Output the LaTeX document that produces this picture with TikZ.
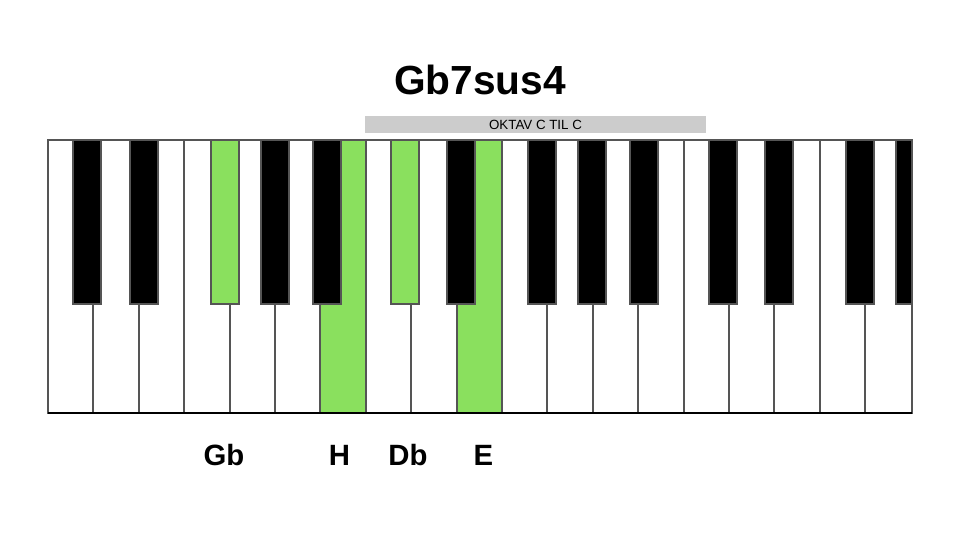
\documentclass[tikz,border=0pt]{standalone}
\usepackage{fontspec}
\setmainfont{Liberation Sans}
\definecolor{keygreen}{RGB}{138,224,94}
\definecolor{keyline}{RGB}{85,85,85}
\definecolor{barfill}{RGB}{204,204,204}
\begin{document}
\begin{tikzpicture}[x=0.75pt,y=-0.75pt,
  whitekey/.style={draw=keyline,line width=1.5pt,fill=white},
  greenwhite/.style={whitekey,fill=keygreen},
  blackkey/.style={draw=keyline,line width=1.5pt,fill=black},
  greenblack/.style={blackkey,fill=keygreen},
  notelabel/.style={anchor=base,font=\bfseries\fontsize{22}{26}\selectfont},
  titlefont/.style={font=\bfseries\fontsize{30.5}{36}\selectfont}]
\useasboundingbox (0,0) rectangle (960,540);
% white keys
\foreach \i in {0,...,17}
  \draw[whitekey] ({48+45.4*\i},140) rectangle ({48+45.4*(\i+1)},413);
\draw[whitekey] ({48+45.4*18},140) rectangle (912,413);
\draw[greenwhite] ({48+45.4*6},140) rectangle ({48+45.4*7},413);
\draw[greenwhite] ({48+45.4*9},140) rectangle ({48+45.4*10},413);
% black keys
\foreach \c in {87,143.5,274.5,326.5,461.3,542.3,592.3,644.3,722.6,779.1,860.1}
  \draw[blackkey] ({\c-14},140) rectangle ({\c+14},304);
\draw[greenblack] (210.5,140) rectangle (238.5,304);
\draw[greenblack] (390.8,140) rectangle (418.8,304);
\draw[blackkey] (896,140) rectangle (912,304);
% frame
\draw[keyline,line width=1.5pt] (48,140) rectangle (912,413);
\draw[black,line width=1.8pt] (48,413) -- (912,413);
% octave bar
\fill[barfill] (365,116) rectangle (706,133);
\node (oktav) at (535.5,125) {\fontsize{10}{12}\selectfont OKTAV C TIL C};
% title
\node[titlefont] (title) at (480,80) {Gb7sus4};
% labels
\node[notelabel] (gb) at (224,465) {Gb};
\node[notelabel] (h) at (339.5,465) {H};
\node[notelabel] (db) at (408,465) {Db};
\node[notelabel] (e) at (483.5,465) {E};
\end{tikzpicture}
\end{document}
